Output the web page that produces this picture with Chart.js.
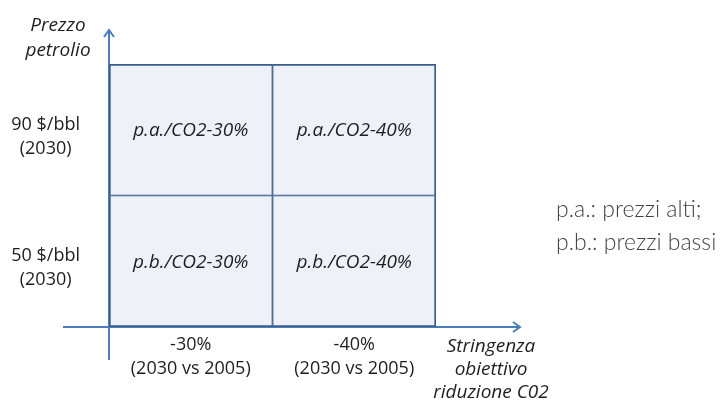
<!DOCTYPE html>
<html>
<head>
<meta charset="utf-8">
<script src="https://cdn.jsdelivr.net/npm/chart.js@4/dist/chart.umd.min.js"></script>
<style>
  body { margin: 0; background: #fff; }
  #wrap { width: 726px; height: 400px; position: relative; }
</style>
</head>
<body>
<div id="wrap"><canvas id="matrix"></canvas></div>
<script>
// righe (prezzo petrolio) dal basso verso l'alto, colonne (obiettivo CO2)
const priceLevels = ['50 $/bbl', '90 $/bbl'];
const priceYear = '(2030)';
const targets = ['-30%', '-40%'];
const targetRef = '(2030 vs 2005)';
const cellLabels = [
    ['p.b./CO2-30%', 'p.b./CO2-40%'],
    ['p.a./CO2-30%', 'p.a./CO2-40%']
];
const cellValues = [
    [1, 1],
    [1, 1]
];
const yTitle = ['Prezzo', 'petrolio'];
const xTitle = ['Stringenza', 'obiettivo', 'riduzione C02'];
const notes = ['p.a.: prezzi alti;', 'p.b.: prezzi bassi'];

const cellFill = '#eef2f8';
const cellLine = '#385d8a';
const axisColor = '#4a7ebb';
const baseFont = '"Open Sans", "Liberation Sans", sans-serif';

// frecce degli assi + titoli + note
const decorPlugin = {
    id: 'decor',
    beforeDatasetsDraw(chart) {
        const { ctx, chartArea: a } = chart;
        const x0 = a.left;
        const y0 = chart.scales.y.getPixelForValue(0);
        ctx.save();
        ctx.strokeStyle = axisColor;
        ctx.lineWidth = 2;
        ctx.beginPath();
        // asse y
        ctx.moveTo(x0, y0 + 33);
        ctx.lineTo(x0, a.top - 34);
        ctx.moveTo(x0 - 5, a.top - 27);
        ctx.lineTo(x0, a.top - 34);
        ctx.lineTo(x0 + 5, a.top - 27);
        // asse x
        ctx.moveTo(x0 - 46, y0);
        ctx.lineTo(a.right + 84, y0);
        ctx.moveTo(a.right + 77, y0 - 5);
        ctx.lineTo(a.right + 84, y0);
        ctx.lineTo(a.right + 77, y0 + 5);
        ctx.stroke();
        ctx.restore();
    },
    afterDatasetsDraw(chart) {
        const { ctx, chartArea: a } = chart;
        ctx.save();
        // etichette delle celle
        ctx.fillStyle = '#1e1e1e';
        ctx.font = 'italic 19px ' + baseFont;
        ctx.textAlign = 'center';
        ctx.textBaseline = 'middle';
        chart.data.datasets.forEach((ds, di) => {
            chart.getDatasetMeta(di).data.forEach((bar, ci) => {
                const p = bar.getCenterPoint();
                ctx.fillText(cellLabels[di][ci], p.x, p.y + 1);
            });
        });
        // titoli assi
        ctx.font = 'italic 19px ' + baseFont;
        yTitle.forEach((t, i) => ctx.fillText(t, a.left - 51, 26 + i * 25));
        xTitle.forEach((t, i) => ctx.fillText(t, a.right + 55, a.bottom + 20 + i * 23));
        // note
        ctx.font = '300 23px Lato, ' + baseFont;
        ctx.fillStyle = '#444';
        ctx.textAlign = 'left';
        notes.forEach((t, i) => ctx.fillText(t, a.right + 120, 210 + i * 33));
        ctx.restore();
    }
};

new Chart(document.getElementById('matrix'), {
    type: 'bar',
    data: {
        labels: targets.map(t => [t, targetRef]),
        datasets: priceLevels.map((lvl, r) => ({
            label: lvl,
            data: cellValues[r],
            backgroundColor: cellFill,
            borderColor: cellLine,
            borderSkipped: false,
            borderWidth: c => ({
                left: c.dataIndex === 0 ? 2 : 1.2,
                right: c.dataIndex === targets.length - 1 ? 2 : 1.2,
                top: c.datasetIndex === priceLevels.length - 1 ? 2 : 1.2,
                bottom: c.datasetIndex === 0 ? 2 : 1.2
            }),
            barPercentage: 1,
            categoryPercentage: 1
        }))
    },
    options: {
        responsive: true,
        maintainAspectRatio: false,
        animation: false,
        layout: { padding: { left: 0, top: 64, right: 290, bottom: 0 } },
        plugins: {
            legend: { display: false },
            tooltip: { enabled: false }
        },
        scales: {
            x: {
                stacked: true,
                grid: { display: false },
                border: { display: false },
                ticks: {
                    color: '#1e1e1e',
                    font: { family: baseFont, size: 18, lineHeight: 1.33 },
                    padding: -2,
                    maxRotation: 0,
                    autoSkip: false
                },
                afterFit(scale) { scale.height = 73; }
            },
            y: {
                stacked: true,
                min: 0,
                max: priceLevels.length,
                grid: { display: false },
                border: { display: false },
                afterBuildTicks(scale) {
                    scale.ticks = priceLevels.map((_, i) => ({ value: i + 0.5 }));
                },
                ticks: {
                    color: '#1e1e1e',
                    font: { family: baseFont, size: 18, lineHeight: 1.33 },
                    crossAlign: 'center',
                    padding: 21,
                    labelOffset: 7,
                    callback: (v, i) => [priceLevels[i], priceYear]
                },
                afterFit(scale) { scale.width = 109; }
            }
        }
    },
    plugins: [decorPlugin]
});
</script>
</body>
</html>
